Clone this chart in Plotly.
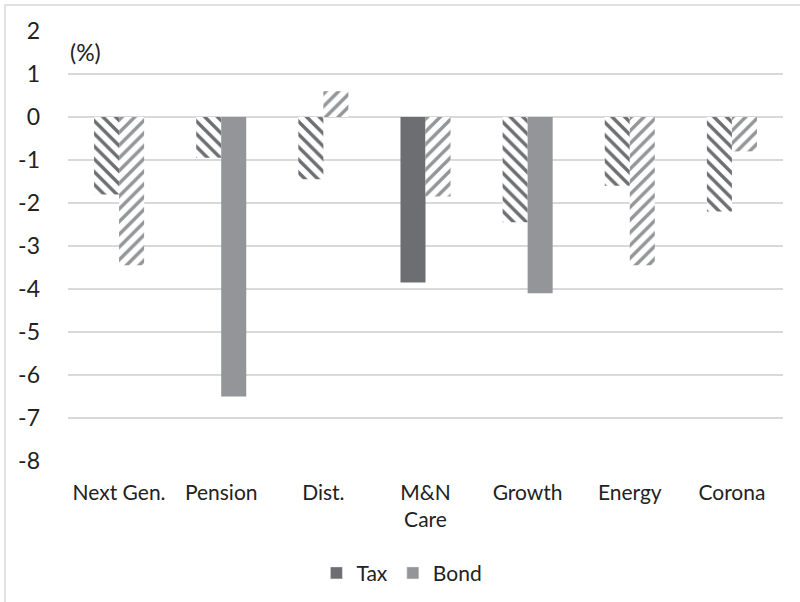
import plotly.graph_objects as go

categories = ["Next Gen.", "Pension", "Dist.", "M&N<br>Care", "Growth", "Energy", "Corona"]
tax_values = [-1.8, -0.95, -1.45, -3.85, -2.45, -1.6, -2.2]
bond_values = [-3.45, -6.5, 0.6, -1.85, -4.1, -3.45, -0.8]
# hatched bars are drawn with a diagonal pattern, solid ones without
tax_patterns = ["\\", "\\", "\\", "", "\\", "\\", "\\"]
bond_patterns = ["/", "", "/", "/", "", "/", "/"]
y_ticks = [2, 1, 0, -1, -2, -3, -4, -5, -6, -7, -8]
y_tick_text = [str(v) for v in y_ticks]

TAX_COLOR = "#6d6e71"
BOND_COLOR = "#939598"
FONT = "Lato"
FS = 21

fig = go.Figure()
fig.add_trace(go.Bar(
    x=categories, y=tax_values, name="Tax", showlegend=False, offsetgroup="tax",
    marker=dict(color=TAX_COLOR, line=dict(width=0),
                pattern=dict(shape=tax_patterns, fgcolor=TAX_COLOR, bgcolor="white",
                             fillmode="replace", size=9, solidity=0.38)),
))
fig.add_trace(go.Bar(
    x=categories, y=bond_values, name="Bond", showlegend=False, offsetgroup="bond",
    marker=dict(color=BOND_COLOR, line=dict(width=0),
                pattern=dict(shape=bond_patterns, fgcolor=BOND_COLOR, bgcolor="white",
                             fillmode="replace", size=9, solidity=0.38)),
))
# legend entries with solid swatches
for name, col, grp in [("Tax", TAX_COLOR, "tax"), ("Bond", BOND_COLOR, "bond")]:
    fig.add_trace(go.Bar(x=[None], y=[None], name=name, offsetgroup=grp,
                         marker=dict(color=col)))

fig.update_layout(
    width=800, height=602,
    margin=dict(l=68, r=17, t=31, b=141, autoexpand=False),
    paper_bgcolor="white", plot_bgcolor="white",
    barmode="group", bargap=0.51, bargroupgap=0,
    font=dict(family=FONT, size=FS, color="#222222"),
    showlegend=True,
    legend=dict(orientation="h", x=0.467, xanchor="center", y=-0.261, yanchor="middle",
                font=dict(size=FS), itemwidth=30, traceorder="normal"),
    xaxis=dict(showgrid=False, showline=False, zeroline=False, ticks="", automargin=False,
               ticklabelstandoff=17, tickfont=dict(size=FS)),
    yaxis=dict(range=[-8, 2], tickvals=y_ticks, ticktext=y_tick_text, showgrid=True,
               gridcolor="#d9d9d9", gridwidth=1.5, zeroline=True, automargin=False,
               zerolinecolor="#d9d9d9", zerolinewidth=1.5,
               showline=False, ticks="", ticklabelstandoff=27, tickfont=dict(size=23)),
    annotations=[dict(text="(%)", xref="paper", yref="y", x=0.0, y=1.52,
                      xanchor="left", yanchor="middle", showarrow=False,
                      font=dict(size=23))],
    shapes=[dict(type="rect", xref="paper", yref="paper",
                 x0=-63 / 715, x1=1 + 30 / 715, y0=-200 / 430, y1=1 + 26 / 430,
                 line=dict(color="#d9d9d9", width=1.5), fillcolor="rgba(0,0,0,0)",
                 layer="below")],
)

fig.write_html("out.html")
